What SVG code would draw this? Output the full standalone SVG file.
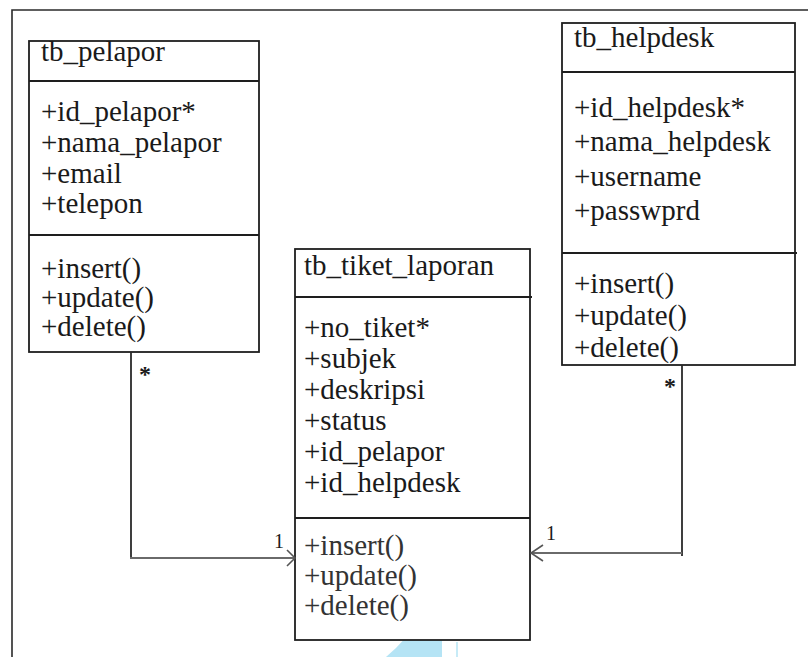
<svg xmlns="http://www.w3.org/2000/svg" width="808" height="657" viewBox="0 0 808 657">
  <style>
    .box { fill: #ffffff; stroke: #1e1e1e; stroke-width: 1.8; }
    .div { stroke: #1e1e1e; stroke-width: 1.8; }
    text { font-family: 'Liberation Serif', 'DejaVu Serif', serif; fill: #1a1a1a; }
    .t { font-size: 29px; }
    .m { font-size: 20px; }
    .s { font-size: 24px; font-weight: bold; }
    .wire { fill: none; stroke: #2a2a2a; stroke-width: 1.8; }
    .wireh { fill: none; stroke: #6a6a6a; stroke-width: 2; }
    .head { fill: none; stroke: #555555; stroke-width: 1.6; }
  </style>

  <rect x="0" y="0" width="808" height="657" fill="#ffffff"/>

  <!-- outer frame -->
  <path d="M808,10 H12 V657" fill="none" stroke="#2a2a2a" stroke-width="1.6"/>

  <!-- light blue mark at the bottom -->
  <path d="M442,566 Q428,622 386,657 L442,657 Z" fill="#b5e4f5"/>
  <line x1="457" y1="642" x2="457" y2="657" stroke="#b5e4f5" stroke-width="1.5"/>

  <!-- tb_pelapor -->
  <g id="tb_pelapor">
    <rect class="box" x="29" y="41" width="230" height="311"/>
    <line class="div" x1="29" y1="81" x2="259" y2="81"/>
    <line class="div" x1="29" y1="235" x2="259" y2="235"/>
    <text class="t" x="41" y="61">tb_pelapor</text>
    <text class="t" x="41" y="121">+id_pelapor*</text>
    <text class="t" x="41" y="152">+nama_pelapor</text>
    <text class="t" x="41" y="183">+email</text>
    <text class="t" x="41" y="213">+telepon</text>
    <text class="t" x="41" y="278">+insert()</text>
    <text class="t" x="41" y="307">+update()</text>
    <text class="t" x="41" y="336">+delete()</text>
  </g>

  <!-- tb_helpdesk -->
  <g id="tb_helpdesk">
    <rect class="box" x="562" y="23" width="233" height="342"/>
    <line class="div" x1="562" y1="72" x2="795" y2="72"/>
    <line class="div" x1="562" y1="253" x2="797" y2="253"/>
    <text class="t" x="574" y="47">tb_helpdesk</text>
    <text class="t" x="574" y="117">+id_helpdesk*</text>
    <text class="t" x="574" y="151">+nama_helpdesk</text>
    <text class="t" x="574" y="186">+username</text>
    <text class="t" x="574" y="220">+passwprd</text>
    <text class="t" x="574" y="293">+insert()</text>
    <text class="t" x="574" y="325">+update()</text>
    <text class="t" x="574" y="357">+delete()</text>
  </g>

  <!-- tb_tiket_laporan -->
  <g id="tb_tiket_laporan">
    <rect class="box" x="295" y="249" width="235" height="391"/>
    <line class="div" x1="295" y1="297" x2="532" y2="297"/>
    <line class="div" x1="295" y1="518" x2="530" y2="518"/>
    <text class="t" x="304" y="275">tb_tiket_laporan</text>
    <text class="t" x="304" y="337">+no_tiket*</text>
    <text class="t" x="304" y="368">+subjek</text>
    <text class="t" x="304" y="399">+deskripsi</text>
    <text class="t" x="304" y="430">+status</text>
    <text class="t" x="304" y="461">+id_pelapor</text>
    <text class="t" x="304" y="492">+id_helpdesk</text>
    <text class="t" x="304" y="555" style="fill:#333">+insert()</text>
    <text class="t" x="304" y="585" style="fill:#333">+update()</text>
    <text class="t" x="304" y="615" style="fill:#333">+delete()</text>
  </g>

  <!-- associations -->
  <g id="connectors">
    <!-- tb_pelapor * to 1 tb_tiket_laporan -->
    <line class="wire" x1="131" y1="352" x2="131" y2="559"/>
    <line class="wireh" x1="130" y1="558" x2="294" y2="558"/>
    <polyline class="head" points="287,550 295,558 287,566"/>
    <text class="s" x="139" y="382">*</text>
    <text class="m" x="274" y="548">1</text>

    <!-- tb_helpdesk * to 1 tb_tiket_laporan -->
    <line class="wire" x1="682" y1="365" x2="682" y2="556"/>
    <line class="wireh" x1="682" y1="553" x2="532" y2="553"/>
    <polyline class="head" points="543,545 531,553 543,561"/>
    <text class="s" x="664" y="394">*</text>
    <text class="m" x="546" y="540">1</text>
  </g>
</svg>
